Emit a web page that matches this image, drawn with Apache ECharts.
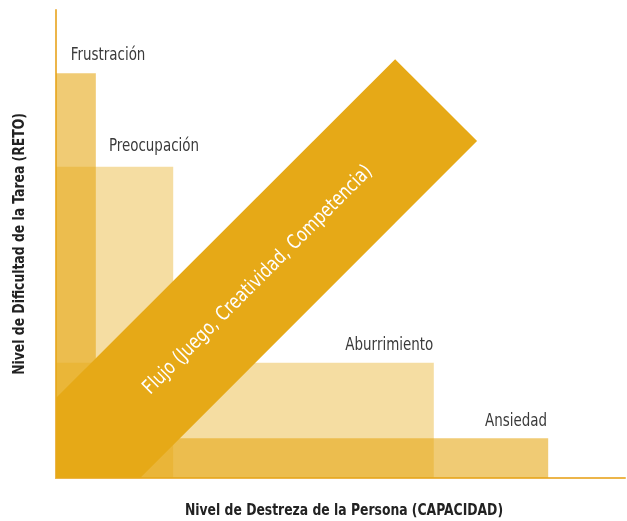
<!DOCTYPE html>
<html>
<head>
<meta charset="utf-8">
<script src="https://cdn.jsdelivr.net/npm/echarts@6/dist/echarts.min.js"></script>
<style>
html,body{margin:0;padding:0;background:#fff;}
#chart{width:627px;height:521px;}
</style>
</head>
<body>
<div id="chart"></div>
<script>
// Zones (categories) and their extents (data units, 0-100 on each axis)
var zones = ['Frustración', 'Preocupación', 'Aburrimiento', 'Ansiedad'];
var zoneRight = [7.0, 20.6, 66.4, 86.5];   // capacity extent
var zoneTop = [86.5, 66.5, 24.6, 8.5];     // challenge extent
var zoneOpacity = [0.6, 0.4, 0.4, 0.6];
var labelX = [2.6, 9.3, 66.3, 86.3];
var labelY = [90.4, 70.9, 28.4, 12.2];
var labelAlign = ['left', 'left', 'right', 'right'];

// Flow channel polygon (data units)
var bandX = [0, 59.6, 74.0, 14.8, 0];
var bandY = [17.1, 89.5, 72.0, 0, 0];
var bandLabel = 'Flujo (Juego, Creatividad, Competencia)';
var bandLabelPos = [35.5, 42.3];

var xTitle = 'Nivel de Destreza de la Persona (CAPACIDAD)';
var yTitle = 'Nivel de Dificultad de la Tarea (RETO)';

var FONT = '"DejaVu Sans", sans-serif';
var BASE = '#E6A917';

var zoneData = zones.map(function (z, i) {
  return [zoneRight[i], zoneTop[i], i];
});
var bandData = bandX.map(function (x, i) { return [x, bandY[i]]; });

var chart = echarts.init(document.getElementById('chart'), null, {renderer: 'canvas'});
chart.setOption({
  animation: false,
  grid: {left: 56, right: 2, top: 10, bottom: 43},
  xAxis: {
    type: 'value', min: 0, max: 100,
    axisLine: {show: true, lineStyle: {color: '#ECB54A', width: 2}},
    axisTick: {show: false}, axisLabel: {show: false}, splitLine: {show: false}
  },
  yAxis: {
    type: 'value', min: 0, max: 100,
    axisLine: {show: true, lineStyle: {color: '#ECB54A', width: 2}},
    axisTick: {show: false}, axisLabel: {show: false}, splitLine: {show: false}
  },
  graphic: [
    {type: 'text', x: 344, y: 511, scaleX: 0.86,
     style: {text: xTitle, font: 'normal normal bold condensed 16px ' + FONT, fill: '#222', align: 'center', verticalAlign: 'middle'}},
    {type: 'text', x: 20, y: 244, rotation: Math.PI / 2, scaleX: 0.86,
     style: {text: yTitle, font: 'normal normal bold condensed 16px ' + FONT, fill: '#222', align: 'center', verticalAlign: 'middle'}}
  ],
  series: [
    {
      type: 'custom',
      data: zoneData,
      renderItem: function (params, api) {
        var i = api.value(2);
        var p0 = api.coord([0, 0]);
        var p1 = api.coord([api.value(0), api.value(1)]);
        return {
          type: 'rect',
          shape: {x: p0[0], y: p1[1], width: p1[0] - p0[0], height: p0[1] - p1[1]},
          style: {fill: BASE, opacity: zoneOpacity[i]}
        };
      },
      z: 1
    },
    {
      type: 'custom',
      data: [0],
      renderItem: function (params, api) {
        var pts = bandData.map(function (d) { return api.coord(d); });
        var c = api.coord(bandLabelPos);
        return {
          type: 'group',
          children: [
            {type: 'polygon', shape: {points: pts}, style: {fill: BASE}},
            {type: 'text', x: c[0], y: c[1], rotation: Math.PI / 4, scaleX: 0.88,
             style: {text: bandLabel, font: 'normal normal normal condensed 20px ' + FONT, fill: '#fff', align: 'center', verticalAlign: 'middle'}}
          ]
        };
      },
      z: 3
    },
    {
      type: 'custom',
      data: zoneData,
      renderItem: function (params, api) {
        var i = api.value(2);
        var c = api.coord([labelX[i], labelY[i]]);
        return {
          type: 'text', x: c[0], y: c[1], scaleX: 0.83,
          style: {text: zones[i], font: 'normal normal normal condensed 18px ' + FONT, fill: '#3a3a3a', align: labelAlign[i], verticalAlign: 'middle'}
        };
      },
      z: 4
    }
  ]
});
</script>
</body>
</html>
